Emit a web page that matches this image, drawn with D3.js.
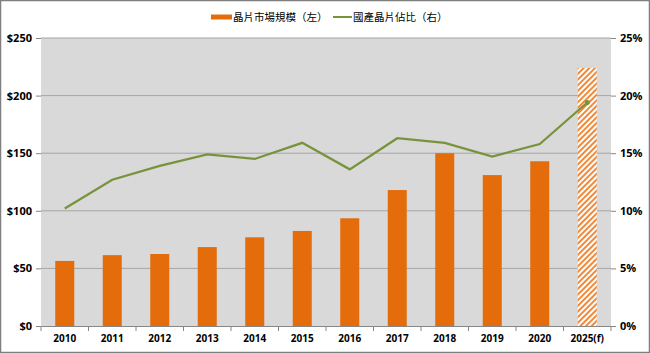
<!doctype html>
<html lang="zh-Hant">
<head>
<meta charset="utf-8">
<script src="https://cdn.jsdelivr.net/npm/d3@7"></script>
<style>
  body { margin: 0; background: #fff; }
  svg { display: block; }
  text { font-family: "Open Sans", "Liberation Sans", sans-serif; }
</style>
</head>
<body>
<script>
var years = ["2010", "2011", "2012", "2013", "2014", "2015", "2016", "2017", "2018", "2019", "2020", "2025(f)"];
var marketSize = [56.5, 61.5, 62.5, 68.5, 77, 82.5, 93.5, 118, 150, 131, 143, 224];
var domesticShare = [10.2, 12.7, 13.9, 14.9, 14.5, 15.9, 13.6, 16.3, 15.9, 14.7, 15.8, 19.4];
var leftTicks = [0, 50, 100, 150, 200, 250];
var rightTicks = [0, 5, 10, 15, 20, 25];
var legendLabels = ["晶片市場規模（左）", "國產晶片佔比（右）"];

var W = 650, H = 353;
var margin = {top: 38, right: 39, bottom: 27, left: 41};
var w = W - margin.left - margin.right;
var h = H - margin.top - margin.bottom;

var svg = d3.select("body").append("svg")
            .attr("width", W)
            .attr("height", H);

// hatch for the forecast bar
var defs = svg.append("defs");
var pat = defs.append("pattern")
              .attr("id", "hatch")
              .attr("patternUnits", "userSpaceOnUse")
              .attr("width", 4)
              .attr("height", 4)
              .attr("patternTransform", "rotate(45)");
pat.append("rect").attr("width", 4).attr("height", 4).attr("fill", "#fff");
pat.append("rect").attr("width", 2).attr("height", 4).attr("fill", "#f08a3a");

// outer frame
svg.append("rect")
   .attr("x", 0.5).attr("y", 0.5)
   .attr("width", W - 1).attr("height", H - 1)
   .attr("fill", "none")
   .attr("stroke", "#7f7f7f")
   .attr("stroke-width", 1.5);

var g = svg.append("g")
           .attr("transform", "translate(" + margin.left + "," + margin.top + ")");

var x = d3.scaleBand()
          .domain(years)
          .range([0, w]);

var yL = d3.scaleLinear().domain([0, 250]).range([h, 0]);
var yR = d3.scaleLinear().domain([0, 25]).range([h, 0]);

g.append("rect")
 .attr("width", w)
 .attr("height", h)
 .attr("fill", "#d9d9d9");

// gridlines
g.selectAll("line.grid")
 .data(leftTicks.slice(1))
 .enter()
 .append("line")
 .attr("class", "grid")
 .attr("x1", 0).attr("x2", w)
 .attr("y1", d => yL(d)).attr("y2", d => yL(d))
 .attr("stroke", "#a6a6a6")
 .attr("stroke-width", 1);

// bars
var barW = 19;
g.selectAll("rect.bar")
 .data(marketSize)
 .enter()
 .append("rect")
 .attr("class", "bar")
 .attr("x", (_, i) => x(years[i]) + x.bandwidth() / 2 - barW / 2)
 .attr("y", d => yL(d))
 .attr("width", barW)
 .attr("height", d => h - yL(d))
 .attr("fill", (_, i) => i === years.length - 1 ? "url(#hatch)" : "#e46c0a");

// line
var line = d3.line()
             .x((_, i) => x(years[i]) + x.bandwidth() / 2)
             .y(d => yR(d));

g.append("path")
 .datum(domesticShare)
 .attr("d", line)
 .attr("fill", "none")
 .attr("stroke", "#77933c")
 .attr("stroke-width", 2.25);

// small marker at the forecast point
var last = domesticShare.length - 1;
g.append("circle")
 .attr("cx", x(years[last]) + x.bandwidth() / 2)
 .attr("cy", yR(domesticShare[last]))
 .attr("r", 2.5)
 .attr("fill", "#77933c");

// axes
var axisColor = "#868686";
var leftAxis = g.append("g")
                .call(d3.axisLeft(yL).tickValues(leftTicks).tickSize(5).tickPadding(4).tickFormat(d => "$" + d));
var rightAxis = g.append("g")
                 .attr("transform", "translate(" + w + ",0)")
                 .call(d3.axisRight(yR).tickValues(rightTicks).tickSize(5).tickPadding(4).tickFormat(d => d + "%"));
var bottomAxis = g.append("g")
                  .attr("transform", "translate(0," + h + ")")
                  .call(d3.axisBottom(x).tickSize(0).tickPadding(9));

[leftAxis, rightAxis, bottomAxis].forEach(a => {
    a.select(".domain").attr("stroke", axisColor);
    a.selectAll(".tick line").attr("stroke", axisColor);
    a.selectAll("text")
     .attr("fill", "#000")
     .style("font-size", "11px")
     .style("font-weight", "bold");
});
leftAxis.select(".domain").remove();
rightAxis.select(".domain").remove();
bottomAxis.selectAll("text").style("font-size", "10px");

// category separators below the axis
g.selectAll("line.sep")
 .data(years.concat(["end"]))
 .enter()
 .append("line")
 .attr("class", "sep")
 .attr("x1", (d, i) => i * x.bandwidth())
 .attr("x2", (d, i) => i * x.bandwidth())
 .attr("y1", h).attr("y2", h + 5)
 .attr("stroke", axisColor);

// legend
var legend = svg.append("g").attr("transform", "translate(211,17)");
legend.append("rect")
      .attr("x", 0).attr("y", -2.5)
      .attr("width", 21).attr("height", 5)
      .attr("fill", "#e46c0a");
legend.append("text")
      .attr("x", 22).attr("y", 4)
      .style("font-family", "'Noto Sans CJK TC', sans-serif")
      .style("font-size", "10.5px")
      .text(legendLabels[0]);
legend.append("line")
      .attr("x1", 122).attr("x2", 141)
      .attr("y1", 0).attr("y2", 0)
      .attr("stroke", "#77933c")
      .attr("stroke-width", 2);
legend.append("text")
      .attr("x", 142).attr("y", 4)
      .style("font-family", "'Noto Sans CJK TC', sans-serif")
      .style("font-size", "10.5px")
      .text(legendLabels[1]);
</script>
</body>
</html>
